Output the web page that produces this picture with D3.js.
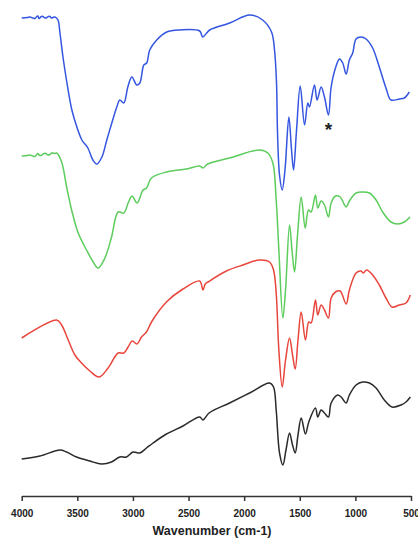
<!DOCTYPE html>
<html>
<head>
<meta charset="utf-8">
<script src="https://cdn.jsdelivr.net/npm/d3@7"></script>
<style>
  html, body { margin: 0; padding: 0; background: #fff; }
  svg { display: block; }
</style>
</head>
<body>
<svg id="chart" width="418" height="538"></svg>
<script>
// FTIR spectra, stacked with vertical offsets (transmittance, arbitrary units)
const xTicks = [4000, 3500, 3000, 2500, 2000, 1500, 1000, 500];
const xLabel = "Wavenumber (cm-1)";

// [wavenumber, offset transmittance]
const blueSpectrum = [
  [4000,477],[3950,477.5],[3926,478],[3900,477],[3881,476.5],[3865,478.5],[3854,479],[3845,476.5],
  [3836,477],[3822,478.5],[3809,478.5],[3790,477],[3773,477.5],[3760,478.5],[3746,478.5],[3732,477],
  [3719,477.5],[3701,478],[3674,475],[3656,462],[3629,438],[3593,412],[3549,385],[3504,368],
  [3459,355],[3405,347],[3360,335],[3324,331],[3279,338],[3235,355],[3190,372],[3145,388],
  [3118,395],[3082,392],[3046,408],[3010,418],[2965,410],[2938,412],[2902,430],[2876,432],
  [2849,445],[2786,455],[2696,463],[2579,465],[2400,464],[2373,458],[2337,462],[2310,465],
  [2130,472],[1951,480],[1834,475],[1754,463],[1727,445],[1709,412],[1700,362],[1682,320],
  [1658,305],[1633,325],[1598,378],[1574,345],[1556,325],[1529,365],[1496,409],[1457,370],
  [1428,392],[1413,388],[1368,410],[1344,395],[1308,408],[1278,398],[1242,380],[1218,408],
  [1179,427],[1143,436],[1114,432],[1083,421],[1054,435],[1024,442],[994,456],[949,458],
  [904,456],[845,447],[785,428],[725,407],[680,395],[605,396],[560,397],[515,403]
];
const greenSpectrum = [
  [4000,339],[3950,339.5],[3926,340],[3900,339],[3881,338.5],[3865,340.5],[3854,341.5],[3840,339.5],
  [3818,340],[3800,341.5],[3782,341.5],[3765,340],[3746,340.5],[3730,342],[3719,342],[3700,341.5],
  [3686,342],[3641,333],[3596,308],[3551,285],[3492,262],[3417,245],[3357,233],[3313,227],
  [3252,237],[3192,258],[3133,283],[3082,282],[3043,292],[3007,299],[2963,292],[2909,305],
  [2878,307],[2833,317],[2699,323],[2519,326],[2400,329],[2370,327],[2328,331],[2131,337],
  [1862,345],[1787,342],[1742,332],[1712,295],[1688,245],[1652,177],[1628,205],[1592,270],
  [1570,245],[1547,223],[1520,260],[1487,298],[1451,267],[1422,285],[1398,283],[1359,300],
  [1338,287],[1308,294],[1278,290],[1242,278],[1218,292],[1179,299],[1137,298],[1083,288],
  [1054,294],[994,302],[935,303],[874,302],[814,295],[755,283],[680,273],[620,271],
  [560,273],[509,278]
];
const redSpectrum = [
  [4000,157],[3686,175],[3641,170],[3582,155],[3522,140],[3462,132],[3387,124],[3304,118],
  [3223,127],[3133,142],[3082,142],[3043,148],[3007,154],[2963,151],[2923,158],[2878,163],
  [2833,173],[2699,193],[2550,206],[2400,214],[2370,205],[2350,211],[2325,213],[2160,224],
  [2011,230],[1862,235],[1772,233],[1736,225],[1712,202],[1688,145],[1658,108],[1628,135],
  [1592,157],[1565,140],[1541,126],[1516,155],[1487,183],[1449,155],[1419,173],[1398,172],
  [1359,195],[1338,180],[1308,190],[1278,185],[1242,177],[1218,197],[1179,203],[1137,204],
  [1083,191],[1054,205],[994,222],[949,224],[929,222],[899,225],[845,220],[785,210],
  [725,197],[671,188],[605,190],[545,192],[506,200]
];
const blackSpectrum = [
  [4000,36],[3836,39],[3656,45],[3596,43],[3506,38],[3387,34],[3282,31],[3192,33],
  [3118,38],[3058,38],[2999,43],[2938,42],[2878,47],[2819,52],[2699,61],[2550,69],
  [2400,78],[2370,75],[2316,82],[2131,92],[1951,102],[1772,112],[1736,108],[1712,85],
  [1682,42],[1652,30],[1624,45],[1592,62],[1565,50],[1541,42],[1516,60],[1487,77],
  [1449,61],[1419,73],[1359,87],[1338,78],[1308,85],[1278,82],[1242,78],[1218,92],
  [1159,100],[1128,98],[1083,92],[1054,100],[994,110],[935,113],[874,112],[814,107],
  [740,95],[671,88],[590,90],[545,93],[506,98]
];

const spectra = [
  { data: blackSpectrum, color: "#2a2a2a" },
  { data: redSpectrum,   color: "#e8453c" },
  { data: greenSpectrum, color: "#5ccc5c" },
  { data: blueSpectrum,  color: "#3456e0" }
];

// band marked with an asterisk on the top trace
const markedBand = 1242;

const svg = d3.select("#chart");

const x = d3.scaleLinear().domain([4000, 500]).range([21.7, 411]);
const y = d3.scaleLinear().domain([0, 495]).range([495, 0]);

const line = d3.line()
  .x(d => x(d[0]))
  .y(d => y(d[1]))
  .curve(d3.curveCatmullRom.alpha(0.5));

svg.append("g")
  .selectAll("path")
  .data(spectra)
  .join("path")
  .attr("d", d => line(d.data))
  .attr("fill", "none")
  .attr("stroke", d => d.color)
  .attr("stroke-width", 1.5)
  .attr("stroke-linejoin", "round");

// asterisk under the marked band
const bandValue = blueSpectrum.find(d => d[0] === markedBand)[1];
svg.append("text")
  .attr("x", x(markedBand))
  .attr("y", y(bandValue) + 21)
  .attr("text-anchor", "middle")
  .attr("font-family", "Liberation Sans, Arial, sans-serif")
  .attr("font-weight", "bold")
  .attr("font-size", 19)
  .attr("fill", "#222")
  .text("*");

// bottom axis
const axis = svg.append("g")
  .attr("transform", "translate(0,496)")
  .call(d3.axisBottom(x)
    .tickValues(xTicks)
    .tickSize(5)
    .tickSizeOuter(0)
    .tickPadding(9)
    .tickFormat(d3.format("d")));

axis.select(".domain").attr("stroke", "#333").attr("stroke-width", 1.5);
axis.selectAll(".tick line").attr("stroke", "#333").attr("stroke-width", 1.5);
axis.selectAll(".tick text")
  .attr("font-family", "Liberation Sans, Arial, sans-serif")
  .attr("font-weight", "bold")
  .attr("font-size", 10)
  .attr("fill", "#222");

svg.append("text")
  .attr("x", 212)
  .attr("y", 535)
  .attr("text-anchor", "middle")
  .attr("font-family", "Liberation Sans, Arial, sans-serif")
  .attr("font-weight", "bold")
  .attr("font-size", 12.5)
  .attr("fill", "#222")
  .text(xLabel);
</script>
</body>
</html>
